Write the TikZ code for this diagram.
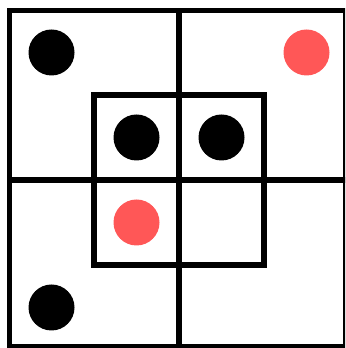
\documentclass[tikz,border=0pt]{standalone}
\usepackage{tikz}
\usepackage{xcolor}
\definecolor{stonered}{RGB}{255, 87, 87}

\begin{document}
\begin{tikzpicture}[x=42.5pt, y=42.5pt]
    \tikzstyle{grid} = [line width=5.5pt, draw=black]
    \tikzstyle{stone} = [circle, minimum size=46pt, inner sep=0pt, draw=none]

    \clip (-4.212,-3.953) rectangle (3.906,4.235);

    % board
    \draw[grid] (-3.99,-3.93) rectangle (3.92,3.99);
    \draw[grid] (-2,-2) rectangle (2,2);
    \draw[grid] (0,-3.93) -- (0,3.99);
    \draw[grid] (-3.99,0) -- (3.92,0);

    % stones
    \node[stone, fill=black]    (tl)  at (-3,3)  {};
    \node[stone, fill=stonered] (tr)  at (3,3)   {};
    \node[stone, fill=black]    (itl) at (-1,1)  {};
    \node[stone, fill=black]    (itr) at (1,1)   {};
    \node[stone, fill=stonered] (ibl) at (-1,-1) {};
    \node[stone, fill=black]    (bl)  at (-3,-3) {};
\end{tikzpicture}
\end{document}
